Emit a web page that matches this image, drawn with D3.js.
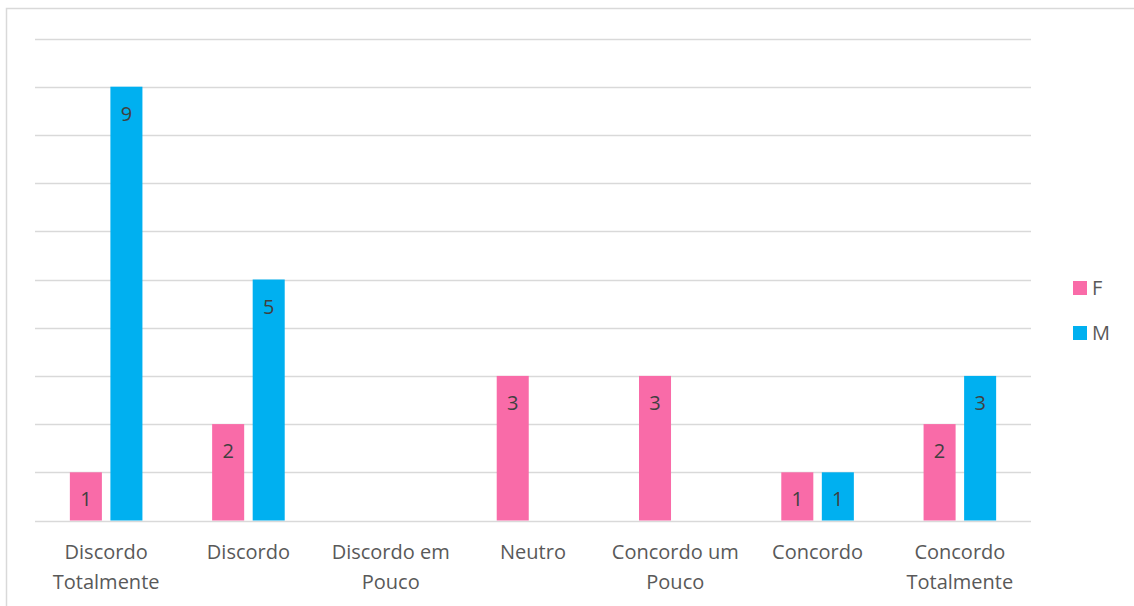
<!DOCTYPE html>
<html><head><meta charset="utf-8">
<script src="https://cdn.jsdelivr.net/npm/d3@7/dist/d3.min.js"></script>
<style>body{margin:0;background:#fff}text{font-family:"Open Sans",sans-serif}</style>
</head><body>
<svg id="c" width="1134" height="606"></svg>
<script>
const categories = [["Discordo","Totalmente"],["Discordo"],["Discordo em","Pouco"],["Neutro"],["Concordo um","Pouco"],["Concordo"],["Concordo","Totalmente"]];
const seriesNames = ["F","M"];
const valuesF = [1,2,0,3,3,1,2];
const valuesM = [9,5,0,0,0,1,3];
const yTicks = [0,1,2,3,4,5,6,7,8,9,10];
const colors = {F:"#F96BA8", M:"#00B0F0"};

(function(){
const svg = d3.select("#c");
svg.append("rect").attr("x",6.5).attr("y",8.5).attr("width",1140).attr("height",610)
  .attr("fill","#fff").attr("stroke","#d9d9d9").attr("stroke-width",1.5);

const pl=35,pr=1031,pt=38.5,pb=520.5;
const x0 = d3.scaleBand().domain(d3.range(categories.length)).range([pl,pr]).padding(0);
const bw = x0.bandwidth();
const x1 = d3.scaleBand().domain(seriesNames).range([bw*0.245,bw*0.755]).paddingInner(0.21);
const y = d3.scaleLinear().domain([0,10]).range([pb,pt]);

svg.append("g").selectAll("line").data(yTicks).join("line")
  .attr("x1",pl).attr("x2",pr).attr("y1",d=>Math.round(y(d))+0.5).attr("y2",d=>Math.round(y(d))+0.5)
  .attr("stroke","#d9d9d9").attr("stroke-width",1.5);

const data = {F:valuesF, M:valuesM};
seriesNames.forEach(s=>{
  const g = svg.append("g");
  data[s].forEach((v,i)=>{
    if(v<=0) return;
    const bx = x0(i)+x1(s);
    g.append("rect").attr("x",bx).attr("y",y(v)).attr("width",x1.bandwidth()).attr("height",y(0)-y(v))
      .attr("fill",colors[s]);
    g.append("text").attr("x",bx+x1.bandwidth()/2).attr("y",y(v)+27).attr("dy","0.35em")
      .attr("text-anchor","middle").attr("font-size",20).attr("fill","#404040").text(v);
  });
});

const xl = svg.append("g");
categories.forEach((lines,i)=>{
  const t = xl.append("text").attr("text-anchor","middle").attr("font-size",20).attr("fill","#595959");
  lines.forEach((ln,j)=>{
    t.append("tspan").attr("x",x0(i)+bw/2).attr("y",559+j*30).text(ln);
  });
});

const lg = svg.append("g");
seriesNames.forEach((s,i)=>{
  const yy = 281+i*45;
  lg.append("rect").attr("x",1073).attr("y",yy).attr("width",14).attr("height",14).attr("fill",colors[s]);
  lg.append("text").attr("x",1092).attr("y",yy+7).attr("dy","0.35em").attr("font-size",20).attr("fill","#595959").text(s);
});
})();
</script>
</body></html>
